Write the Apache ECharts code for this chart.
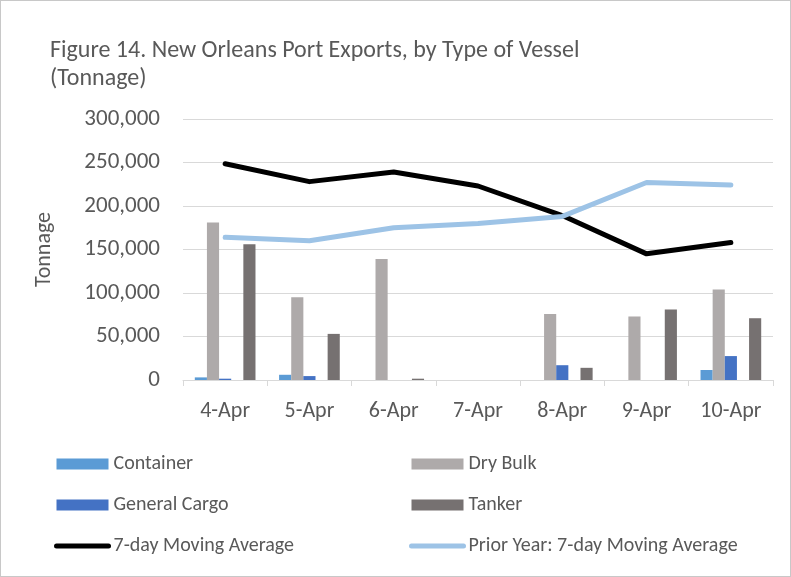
<!DOCTYPE html>
<html lang="en">
<head>
  <meta charset="UTF-8">
  <title>Figure 14. New Orleans Port Exports</title>
  <script src="https://cdn.jsdelivr.net/npm/echarts@6/dist/echarts.min.js"></script>
  <style>
    body { margin: 0; background: #fff; }
    #chart { width: 789px; height: 575px; border: 1px solid #c8c8c8; }
  </style>
</head>
<body>
  <div id="chart"></div>
  <script>
    // data (tonnes)
    const days = ['4-Apr', '5-Apr', '6-Apr', '7-Apr', '8-Apr', '9-Apr', '10-Apr'];
    const container = [3000, 6000, 0, 0, 0, 0, 11500];
    const dryBulk = [181000, 95000, 139000, 0, 76000, 73000, 104000];
    const generalCargo = [1500, 4500, 0, 0, 17000, 0, 27500];
    const other = [null, null, null, null, null, null, null]; // empty slot in the cluster
    const tanker = [156000, 53000, 1500, 0, 14000, 81000, 71000];
    const movingAvg = [248500, 228000, 239000, 223000, 189000, 145000, 158000];
    const priorYearAvg = [164000, 160000, 175000, 180000, 188000, 227000, 224000];

    const font = 'Carlito, Lato, "Open Sans", sans-serif';
    const txt = '#595959';

    const chart = echarts.init(document.getElementById('chart'));

    function bar(name, data, color) {
      return {
        name: name, type: 'bar', data: data,
        barGap: '0%', barCategoryGap: '28%',
        itemStyle: { color: color }
      };
    }

    const legendText = { fontFamily: font, fontSize: 20, color: txt };
    // line legend entries: thick stroke, no marker dot
    const noDot = { color: 'rgba(0,0,0,0)', borderWidth: 0 };
    const thick = { width: 5, cap: 'round' };

    const option = {
      title: {
        text: 'Figure 14. New Orleans Port Exports, by Type of Vessel\n(Tonnage)',
        left: 44, top: 31,
        textStyle: { fontFamily: font, fontSize: 24, fontWeight: 'normal', color: txt, lineHeight: 28 }
      },
      grid: { left: 182, right: 17, top: 118, bottom: 196 },
      legend: [
        {
          orient: 'vertical', left: 48, top: 448, itemGap: 21, itemWidth: 52, itemHeight: 11,
          textStyle: legendText,
          data: [
            { name: 'Container', icon: 'rect' },
            { name: 'General Cargo', icon: 'rect' },
            { name: '7-day Moving Average', itemStyle: noDot, lineStyle: thick }
          ]
        },
        {
          orient: 'vertical', left: 403, top: 448, itemGap: 21, itemWidth: 52, itemHeight: 11,
          textStyle: legendText,
          data: [
            { name: 'Dry Bulk', icon: 'rect' },
            { name: 'Tanker', icon: 'rect' },
            { name: 'Prior Year: 7-day Moving Average', itemStyle: noDot, lineStyle: thick }
          ]
        }
      ],
      xAxis: {
        type: 'category', data: days,
        axisLine: { lineStyle: { color: '#d9d9d9', width: 1 } },
        axisTick: { show: true, length: 6, lineStyle: { color: '#d9d9d9' } },
        axisLabel: { fontFamily: font, fontSize: 22, color: txt, margin: 20 }
      },
      yAxis: {
        type: 'value', min: 0, max: 300000, interval: 50000,
        name: 'Tonnage', nameLocation: 'middle', nameGap: 128, nameRotate: 90,
        nameTextStyle: { fontFamily: font, fontSize: 22, color: txt },
        axisLine: { show: false }, axisTick: { show: false },
        splitLine: { lineStyle: { color: '#d9d9d9', width: 1 } },
        axisLabel: {
          fontFamily: font, fontSize: 23, color: txt, margin: 23,
          formatter: v => v.toLocaleString('en-US')
        }
      },
      series: [
        bar('Container', container, '#5b9bd5'),
        bar('Dry Bulk', dryBulk, '#aeaaaa'),
        bar('General Cargo', generalCargo, '#4472c4'),
        bar('Other', other, '#ffc000'),
        bar('Tanker', tanker, '#767171'),
        {
          name: '7-day Moving Average', type: 'line', data: movingAvg,
          symbol: 'none', z: 5,
          lineStyle: { color: '#000', width: 5, cap: 'round', join: 'round' },
          itemStyle: { color: '#000' }
        },
        {
          name: 'Prior Year: 7-day Moving Average', type: 'line', data: priorYearAvg,
          symbol: 'none', z: 5,
          lineStyle: { color: '#9dc3e6', width: 5, cap: 'round', join: 'round' },
          itemStyle: { color: '#9dc3e6' }
        }
      ]
    };

    chart.setOption(option);
    window.addEventListener('resize', () => chart.resize());
  </script>
</body>
</html>
